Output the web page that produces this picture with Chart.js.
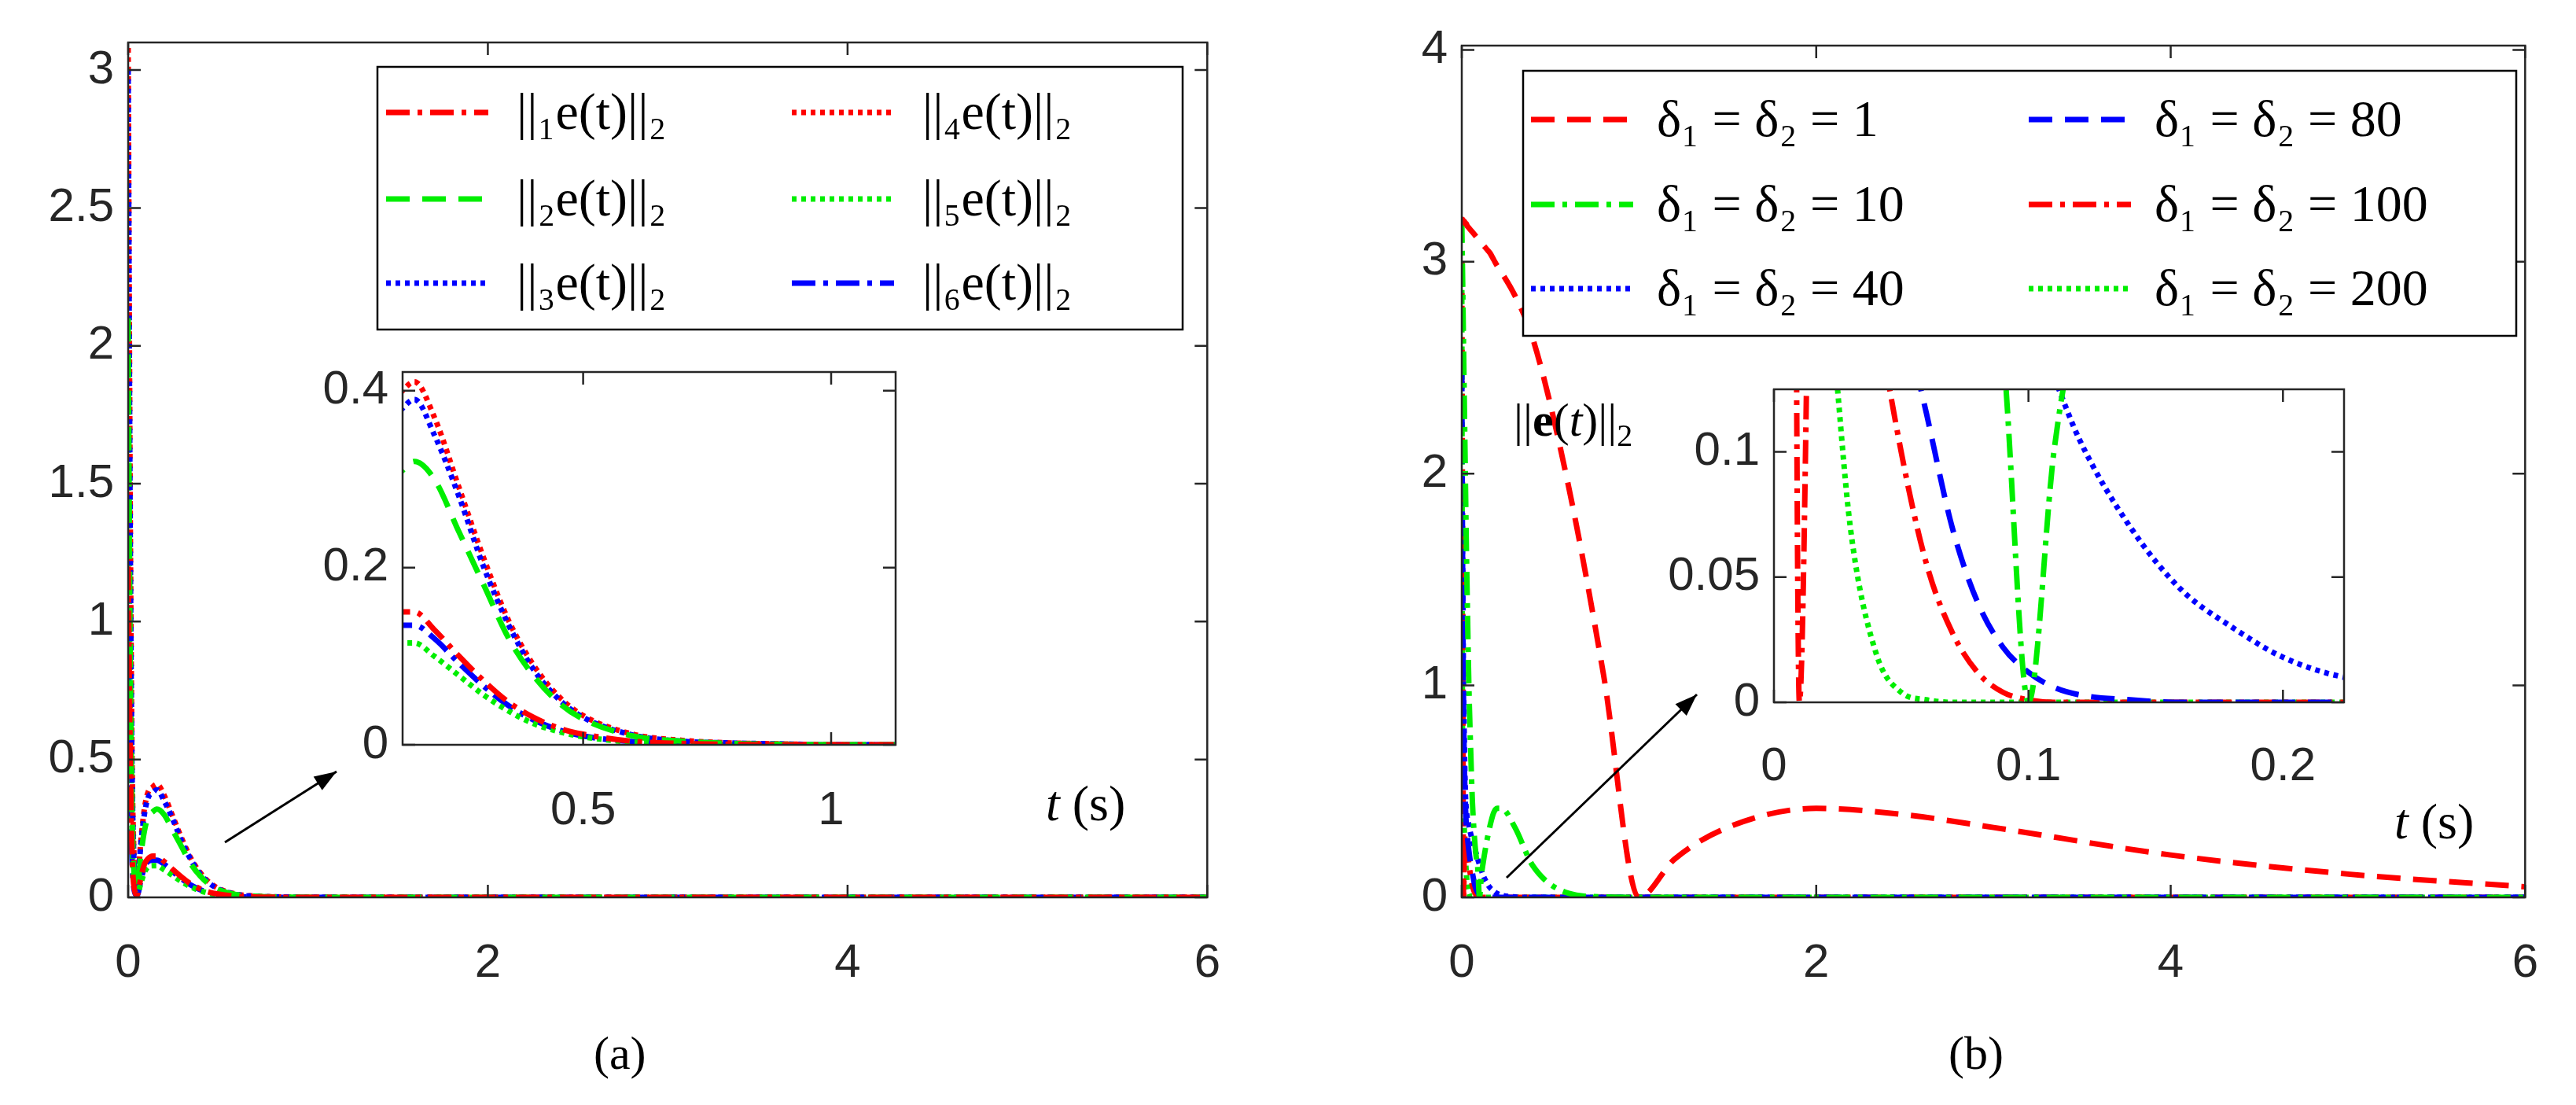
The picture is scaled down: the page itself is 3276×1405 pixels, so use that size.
<!DOCTYPE html>
<html><head><meta charset="utf-8">
<script src="https://cdn.jsdelivr.net/npm/chart.js@4"></script>
<style>
body{margin:0;background:#fff;}
#wrap{position:relative;width:3276px;height:1405px;overflow:hidden;background:#fff;}
canvas{position:absolute;}
.lbl{position:absolute;font-family:"Liberation Serif",serif;color:#000;white-space:nowrap;}
</style></head><body>
<div id="wrap">
<canvas id="mainA" width="1600" height="1300" style="left:0;top:0"></canvas>
<canvas id="mainB" width="1616" height="1300" style="left:1660px;top:0"></canvas>
<canvas id="insA" width="900" height="700" style="left:300px;top:400px"></canvas>
<canvas id="insB" width="1050" height="700" style="left:2000px;top:420px"></canvas>
<div class="lbl" style="left:1330px;top:985px;font-size:64px"><i>t</i> (s)</div>
<div class="lbl" style="left:3045px;top:1008px;font-size:64px"><i>t</i> (s)</div>
<div class="lbl" style="left:1925px;top:500px;font-size:60px">||<b>e</b>(<i>t</i>)||<sub style="font-size:40px">2</sub></div>
<div class="lbl" style="left:755px;top:1305px;font-size:60px">(a)</div>
<div class="lbl" style="left:2478px;top:1305px;font-size:60px">(b)</div>
</div>
<script>
// panel (a): error norms of the six agents
const tA = [0, 0.01, 0.02, 0.03, 0.05, 0.07, 0.09, 0.11, 0.136, 0.16, 0.2, 0.25, 0.3, 0.35, 0.4, 0.45, 0.5, 0.6, 0.7, 0.8, 0.9, 1.0, 1.13, 2, 4, 6];
const e1 = [1.2,0.6,0.2,0.05,0.01,0.07,0.12,0.14,0.15,0.15,0.13,0.1,0.072,0.048,0.031,0.019,0.012,0.004,0.0015,0.0005,0,0,0,0,0,0];
const e2 = [2.1,1.0,0.4,0.12,0.03,0.15,0.24,0.29,0.31,0.32,0.3,0.24,0.18,0.12,0.078,0.048,0.029,0.01,0.004,0.0015,0.0005,0,0,0,0,0];
const e3 = [3.0,1.5,0.55,0.18,0.04,0.19,0.3,0.36,0.38,0.39,0.35,0.28,0.2,0.135,0.085,0.052,0.031,0.011,0.004,0.002,0.001,0,0,0,0,0];
const e4 = [3.08,1.6,0.6,0.2,0.05,0.2,0.32,0.38,0.40,0.41,0.37,0.29,0.21,0.14,0.09,0.055,0.033,0.012,0.005,0.002,0.001,0,0,0,0,0];
const e5 = [1.8,0.8,0.3,0.08,0.01,0.05,0.09,0.11,0.115,0.115,0.1,0.078,0.056,0.038,0.024,0.015,0.009,0.003,0.001,0.0003,0,0,0,0,0,0];
const e6 = [1.0,0.5,0.17,0.04,0.008,0.06,0.11,0.13,0.135,0.135,0.12,0.092,0.066,0.044,0.028,0.017,0.01,0.0035,0.001,0.0004,0,0,0,0,0,0];
const labelsA = ['||₁e(t)||₂','||₂e(t)||₂','||₃e(t)||₂','||₄e(t)||₂','||₅e(t)||₂','||₆e(t)||₂'];

// panel (b): total error for several gains
const tB = [0, 0.005, 0.01, 0.015, 0.02, 0.025, 0.03, 0.04, 0.05, 0.06, 0.07, 0.08, 0.09, 0.1, 0.11, 0.12, 0.14, 0.16, 0.18, 0.2, 0.224, 0.3, 0.4, 0.6, 0.8, 1.0, 1.2, 1.5, 2, 2.5, 3, 4, 5, 6];
const d1   = [3.2,3.2,3.19,3.19,3.18,3.18,3.17,3.16,3.15,3.14,3.13,3.12,3.11,3.1,3.09,3.08,3.06,3.04,3.01,2.98,2.95,2.84,2.64,1.95,1.05,0.0,0.18,0.33,0.42,0.39,0.33,0.2,0.11,0.05];
const d10  = [3.2,2.9,2.6,2.3,2.0,1.7,1.45,1.0,0.7,0.45,0.3,0.2,0.14,0.0,0.1,0.16,0.26,0.34,0.4,0.42,0.42,0.33,0.15,0.02,0.002,0,0,0,0,0,0,0,0,0];
const d40  = [2.0,1.5,1.0,0.7,0.5,0.42,0.38,0.34,0.3,0.27,0.24,0.21,0.18,0.155,0.13,0.105,0.07,0.045,0.03,0.018,0.01,0.002,0,0,0,0,0,0,0,0,0,0,0,0];
const d80  = [2.5,1.5,0.9,0.6,0.45,0.35,0.3,0.22,0.16,0.115,0.07,0.04,0.022,0.012,0.006,0.003,0.001,0,0,0,0,0,0,0,0,0,0,0,0,0,0,0,0,0];
const d100 = [3.0,1.5,0.0,0.25,0.3,0.28,0.24,0.16,0.1,0.055,0.028,0.012,0.004,0.001,0,0,0,0,0,0,0,0,0,0,0,0,0,0,0,0,0,0,0,0];
const d200 = [3.0,0.5,0.4,0.3,0.19,0.125,0.07,0.02,0.004,0.001,0,0,0,0,0,0,0,0,0,0,0,0,0,0,0,0,0,0,0,0,0,0,0,0];
const labelsB = ['δ₁ = δ₂ = 1','δ₁ = δ₂ = 10','δ₁ = δ₂ = 40','δ₁ = δ₂ = 80','δ₁ = δ₂ = 100','δ₁ = δ₂ = 200'];

const RED = '#ff0000', GREEN = '#00ee00', BLUE = '#0000ff';
const DASH = {dashed: [30, 16], dashdot: [30, 10, 6, 10], dotted: [6, 6]};

function pts(t, v) { return t.map((x, i) => ({x: x, y: v[i]})); }
function ds(label, t, v, color, dash) {
  return {label: label, data: pts(t, v), borderColor: color, borderDash: DASH[dash], borderWidth: 7,
          pointRadius: 0, fill: false, cubicInterpolationMode: 'monotone'};
}
function setsA() {
  return [ds(labelsA[0], tA, e1, RED, 'dashdot'), ds(labelsA[1], tA, e2, GREEN, 'dashed'),
          ds(labelsA[2], tA, e3, BLUE, 'dotted'), ds(labelsA[3], tA, e4, RED, 'dotted'),
          ds(labelsA[4], tA, e5, GREEN, 'dotted'), ds(labelsA[5], tA, e6, BLUE, 'dashdot')];
}
function setsB() {
  return [ds(labelsB[0], tB, d1, RED, 'dashed'), ds(labelsB[1], tB, d10, GREEN, 'dashdot'),
          ds(labelsB[2], tB, d40, BLUE, 'dotted'), ds(labelsB[3], tB, d80, BLUE, 'dashed'),
          ds(labelsB[4], tB, d100, RED, 'dashdot'), ds(labelsB[5], tB, d200, GREEN, 'dotted')];
}

// white plot background, box frame with inward ticks on all sides
const frame = {
  id: 'frame',
  beforeDatasetsDraw(chart) {
    const a = chart.chartArea, c = chart.ctx;
    c.save(); c.fillStyle = '#fff'; c.fillRect(a.left, a.top, a.right - a.left, a.bottom - a.top); c.restore();
  },
  afterDatasetsDraw(chart) {
    const a = chart.chartArea, c = chart.ctx, L = 16;
    c.save(); c.strokeStyle = '#262626'; c.lineWidth = 2.5; c.setLineDash([]);
    c.strokeRect(a.left, a.top, a.right - a.left, a.bottom - a.top);
    chart.scales.x.ticks.forEach(t => {
      const p = chart.scales.x.getPixelForValue(t.value);
      c.beginPath(); c.moveTo(p, a.bottom); c.lineTo(p, a.bottom - L); c.moveTo(p, a.top); c.lineTo(p, a.top + L); c.stroke();
    });
    chart.scales.y.ticks.forEach(t => {
      const p = chart.scales.y.getPixelForValue(t.value);
      c.beginPath(); c.moveTo(a.left, p); c.lineTo(a.left + L, p); c.moveTo(a.right, p); c.lineTo(a.right - L, p); c.stroke();
    });
    c.restore();
  }
};

// MATLAB-style legend box, two columns
const legendBox = {
  id: 'legendBox',
  afterDraw(chart, args, o) {
    if (!o.box) return;
    const c = chart.ctx, b = o.box;
    c.save();
    c.fillStyle = '#fff'; c.fillRect(b[0], b[1], b[2], b[3]);
    c.strokeStyle = '#000'; c.lineWidth = 2.5; c.setLineDash([]); c.strokeRect(b[0], b[1], b[2], b[3]);
    c.font = '66px "Liberation Serif", serif'; c.fillStyle = '#000'; c.textBaseline = 'middle';
    chart.data.datasets.forEach((d, i) => {
      const col = Math.floor(i / 3), row = i % 3;
      const y = o.rows[row], x0 = o.cols[col];
      c.strokeStyle = d.borderColor; c.lineWidth = 7; c.setLineDash(d.borderDash);
      c.beginPath(); c.moveTo(x0, y); c.lineTo(x0 + o.sample, y); c.stroke();
      c.fillText(d.label, x0 + o.sample + o.gap, y + 4);
    });
    c.restore();
  }
};

const arrow = {
  id: 'arrow',
  afterDraw(chart, args, o) {
    if (!o.from) return;
    const c = chart.ctx, [x1, y1] = o.from, [x2, y2] = o.to;
    const ang = Math.atan2(y2 - y1, x2 - x1);
    c.save(); c.strokeStyle = '#000'; c.fillStyle = '#000'; c.lineWidth = 3; c.setLineDash([]);
    c.beginPath(); c.moveTo(x1, y1); c.lineTo(x2, y2); c.stroke();
    c.beginPath(); c.moveTo(x2, y2);
    c.lineTo(x2 - 30 * Math.cos(ang - 0.35), y2 - 30 * Math.sin(ang - 0.35));
    c.lineTo(x2 - 30 * Math.cos(ang + 0.35), y2 - 30 * Math.sin(ang + 0.35));
    c.closePath(); c.fill(); c.restore();
  }
};

const tickFont = {family: '"Liberation Sans", Arial, sans-serif', size: 60};
const fmt = v => String(+v.toFixed(3));

function makeChart(id, datasets, cfg) {
  return new Chart(document.getElementById(id), {
    type: 'line',
    data: {datasets: datasets},
    plugins: [frame, legendBox, arrow],
    options: {
      responsive: false, animation: false, devicePixelRatio: 1,
      layout: {padding: {top: cfg.padTop, right: cfg.padRight, left: 0, bottom: 0}},
      plugins: {legend: {display: false}, tooltip: {enabled: false},
                legendBox: cfg.legend || {}, arrow: cfg.arrow || {}},
      scales: {
        x: {type: 'linear', min: cfg.xmin, max: cfg.xmax, grid: {display: false, drawTicks: false},
            border: {display: false},
            afterBuildTicks: s => { s.ticks = cfg.xticks.map(v => ({value: v})); },
            afterFit: s => { s.height = cfg.xh; },
            ticks: {font: tickFont, color: '#262626', padding: cfg.xpad, maxRotation: 0, autoSkip: false, callback: fmt}},
        y: {min: cfg.ymin, max: cfg.ymax, grid: {display: false, drawTicks: false}, border: {display: false},
            afterBuildTicks: s => { s.ticks = cfg.yticks.map(v => ({value: v})); },
            afterFit: s => { s.width = cfg.yw; },
            ticks: {font: tickFont, color: '#262626', padding: 18, autoSkip: false, callback: fmt}}
      }
    }
  });
}

makeChart('mainA', setsA(), {
  xmin: 0, xmax: 6, ymin: 0, ymax: 3.1, xticks: [0, 2, 4, 6], yticks: [0, 0.5, 1, 1.5, 2, 2.5, 3],
  yw: 163, xh: 159, padTop: 51, padRight: 53, xpad: 48,
  legend: {box: [480, 85, 1024, 334], rows: [143, 253, 360], cols: [491, 1007], sample: 130, gap: 36},
  arrow: {from: [286, 1071], to: [428, 981]}
});
makeChart('mainB', setsB(), {
  xmin: 0, xmax: 6, ymin: 0, ymax: 4.02, xticks: [0, 2, 4, 6], yticks: [0, 1, 2, 3, 4],
  yw: 199, xh: 159, padTop: 58, padRight: 42, xpad: 48,
  legend: {box: [277, 90, 1263, 337], rows: [152, 260, 367], cols: [287, 920], sample: 130, gap: 30},
  arrow: {from: [256, 1116], to: [498, 883]}
});
makeChart('insA', setsA(), {
  xmin: 0.136, xmax: 1.13, ymin: 0, ymax: 0.421, xticks: [0.5, 1], yticks: [0, 0.2, 0.4],
  yw: 212, xh: 153, padTop: 73, padRight: 61, xpad: 48
});
makeChart('insB', setsB(), {
  xmin: 0, xmax: 0.224, ymin: 0, ymax: 0.125, xticks: [0, 0.1, 0.2], yticks: [0, 0.05, 0.1],
  yw: 256, xh: 227, padTop: 75, padRight: 69, xpad: 46
});
</script>
</body></html>
